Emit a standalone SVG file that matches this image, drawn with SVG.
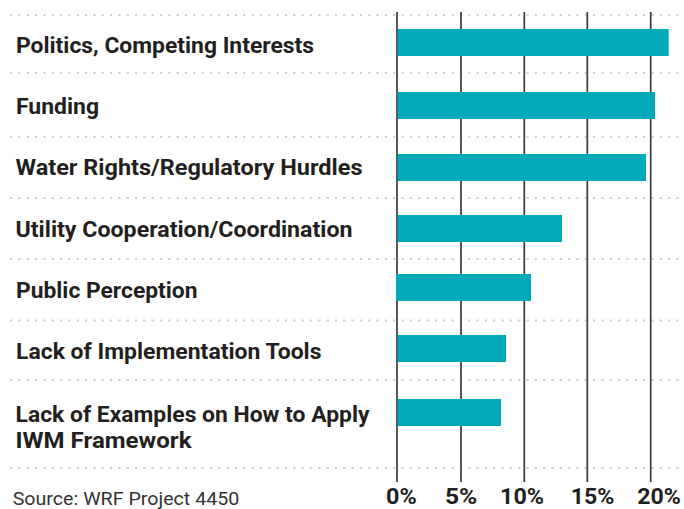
<svg xmlns="http://www.w3.org/2000/svg" width="684" height="509" viewBox="0 0 684 509">
<style>
.lbl{font-family:Roboto,"Liberation Sans",sans-serif;font-weight:bold;font-size:22px;fill:#231f20}
.ax{font-family:Roboto,"Liberation Sans",sans-serif;font-weight:bold;font-size:22px;fill:#231f20}
.src{font-family:Roboto,"Liberation Sans",sans-serif;font-size:17.5px;fill:#333}
.dot{stroke:#cfcfcf;stroke-width:2.2;stroke-dasharray:2.2 6.13;fill:none}
.grid{stroke:#3a3a3a;stroke-width:1.7;fill:none}
.bar{fill:#02a9b9}
</style>
<rect width="684" height="509" fill="#fff"/>
<g id="dotted-rules">
<line class="dot" x1="10" y1="15" x2="684" y2="15"/>
<line class="dot" x1="10" y1="73" x2="684" y2="73"/>
<line class="dot" x1="10" y1="137" x2="684" y2="137"/>
<line class="dot" x1="10" y1="198" x2="684" y2="198"/>
<line class="dot" x1="10" y1="259" x2="684" y2="259"/>
<line class="dot" x1="10" y1="320.5" x2="684" y2="320.5"/>
<line class="dot" x1="10" y1="380" x2="684" y2="380"/>
<line class="dot" x1="10" y1="468" x2="684" y2="468"/>
</g>
<g id="gridlines">
<line class="grid" x1="397" y1="12" x2="397" y2="482"/>
<line class="grid" x1="461" y1="12" x2="461" y2="482"/>
<line class="grid" x1="524.3" y1="12" x2="524.3" y2="482"/>
<line class="grid" x1="587.3" y1="12" x2="587.3" y2="482"/>
<line class="grid" x1="650.7" y1="12" x2="650.7" y2="482"/>
</g>
<g id="connectors"></g>
<g id="politics">
<text class="lbl" x="16" y="53.3" textLength="298" lengthAdjust="spacingAndGlyphs">Politics, Competing Interests</text>
<rect class="bar" x="397.8" y="29" width="270.9" height="27"/>
</g>
<g id="funding">
<text class="lbl" x="16" y="113.5" textLength="83" lengthAdjust="spacingAndGlyphs">Funding</text>
<rect class="bar" x="397.8" y="92" width="257.2" height="27"/>
</g>
<g id="water-rights">
<text class="lbl" x="15.5" y="175" textLength="347" lengthAdjust="spacingAndGlyphs">Water Rights/Regulatory Hurdles</text>
<rect class="bar" x="397.8" y="154" width="248.2" height="27"/>
</g>
<g id="utility-cooperation">
<text class="lbl" x="15.5" y="236.7" textLength="337" lengthAdjust="spacingAndGlyphs">Utility Cooperation/Coordination</text>
<rect class="bar" x="397.8" y="215" width="164.2" height="27"/>
</g>
<g id="public-perception">
<text class="lbl" x="16" y="298.3" textLength="181.5" lengthAdjust="spacingAndGlyphs">Public Perception</text>
<rect class="bar" x="396" y="274" width="135" height="27"/>
</g>
<g id="implementation-tools">
<text class="lbl" x="16" y="359" textLength="305.5" lengthAdjust="spacingAndGlyphs">Lack of Implementation Tools</text>
<rect class="bar" x="397.8" y="335" width="108.2" height="27"/>
</g>
<g id="examples">
<text class="lbl" x="15.5" y="421.7" textLength="354" lengthAdjust="spacingAndGlyphs">Lack of Examples on How to Apply</text>
<text class="lbl" x="15.5" y="448.3" textLength="176" lengthAdjust="spacingAndGlyphs">IWM Framework</text>
<rect class="bar" x="397.8" y="399" width="103.2" height="27"/>
</g>
<g id="axis-labels">
<text class="ax" x="386" y="503.5" textLength="30.7" lengthAdjust="spacingAndGlyphs">0%</text>
<text class="ax" x="445" y="503.5" textLength="32.3" lengthAdjust="spacingAndGlyphs">5%</text>
<text class="ax" x="500" y="503.5" textLength="44" lengthAdjust="spacingAndGlyphs">10%</text>
<text class="ax" x="570.7" y="503.5" textLength="43.6" lengthAdjust="spacingAndGlyphs">15%</text>
<text class="ax" x="637.3" y="503.5" textLength="43.7" lengthAdjust="spacingAndGlyphs">20%</text>
</g>
<g id="source">
<text class="src" x="12.7" y="505" textLength="226.6" lengthAdjust="spacingAndGlyphs">Source: WRF Project 4450</text>
</g>
</svg>
